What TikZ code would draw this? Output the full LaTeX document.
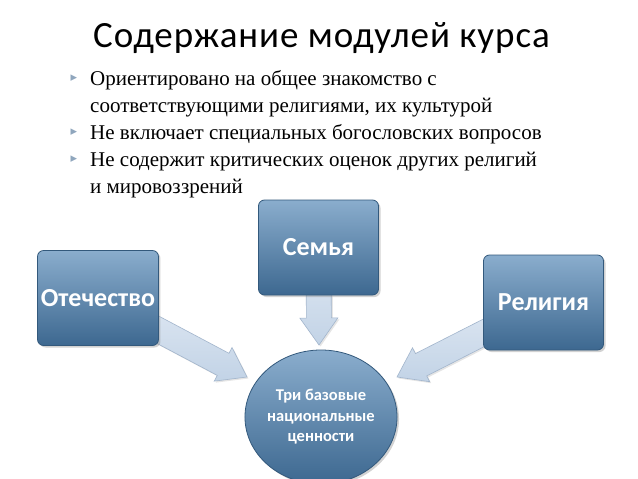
\documentclass[tikz,border=0pt]{standalone}
\usepackage{fontspec}
\setmainfont{Liberation Serif}
\newfontfamily\boxfont{Carlito}
\newfontfamily\titlefont[LetterSpace=2.5]{Carlito}
\newfontfamily\symfont{DejaVu Sans}
\usepackage{xcolor}
\usetikzlibrary{shapes.geometric, shadows, calc, positioning}

\definecolor{boxtop}{HTML}{8AADCD}
\definecolor{boxbot}{HTML}{3D6890}
\definecolor{boxedge}{HTML}{33597C}
\definecolor{arrfill}{HTML}{E2EAF4}
\definecolor{arrfillb}{HTML}{C2D3E6}
\definecolor{arredge}{HTML}{A2B5CC}
\definecolor{bulletcol}{HTML}{8FA6BD}

\pgfdeclarelayer{bg}
\pgfdeclarelayer{arrows}
\pgfsetlayers{bg,arrows,main}

% block arrow from a node to a coordinate
\newcommand{\blockarrow}[2]{%
  \path let \p1=($(#2)-(#1)$) in \pgfextra{%
    \pgfmathsetmacro\arrang{atan2(\y1,\x1)}\global\let\arrang\arrang
    \pgfmathsetmacro\arrlen{veclen(\x1,\y1)}\global\let\arrlen\arrlen};
  \begin{scope}[shift={(#1)}, rotate=\arrang]
    \draw[bigarrow] (0pt,-12.5pt) -- (\arrlen pt-27pt,-12.5pt) -- (\arrlen pt-27pt,-19pt)
      -- (\arrlen pt,0pt) -- (\arrlen pt-27pt,19pt) -- (\arrlen pt-27pt,12.5pt)
      -- (0pt,12.5pt) -- cycle;
  \end{scope}}

\begin{document}
\begin{tikzpicture}[x=1pt, y=-1pt,
  valbox/.style={rectangle, rounded corners=6pt, minimum width=120pt, minimum height=95pt,
    top color=boxtop, bottom color=boxbot, draw=boxedge, line width=0.8pt,
    text=white, font=\boxfont\bfseries\fontsize{26}{26}\selectfont,
    drop shadow={opacity=0.35, shadow xshift=2pt, shadow yshift=-2pt}},
  valnode/.style={ellipse, minimum width=146pt, minimum height=134pt, inner sep=0pt,
    top color=boxtop, bottom color=boxbot, draw=boxedge, line width=0.8pt,
    text=white, align=center, font=\boxfont\bfseries\fontsize{16.5}{20.5}\selectfont,
    drop shadow={opacity=0.35, shadow xshift=2pt, shadow yshift=-2pt}},
  bigarrow/.style={top color=arrfill, bottom color=arrfillb, draw=arredge, line width=0.6pt,
    drop shadow={opacity=0.2, shadow xshift=1.5pt, shadow yshift=-1.5pt}},
  item/.style={anchor=base west, align=left, inner sep=0pt, font=\fontsize{21}{27}\selectfont},
  bullet/.style={text=bulletcol, inner sep=0pt, font=\symfont\fontsize{13}{13}\selectfont}]

  \begin{pgfonlayer}{bg}
    \fill[white] (0,0) rectangle (638,479);
  \end{pgfonlayer}
  \useasboundingbox (0,0) rectangle (638,479);

  \node[anchor=base west, inner sep=0pt, font=\titlefont\fontsize{37}{37}\selectfont] (title) at (93,47) {Содержание модулей курса};

  % base anchor sits on the last line
  \node[item] (item1) at (90,112) {Ориентировано на общее знакомство с\\соответствующими религиями, их культурой};
  \node[item] (item2) at (90,139) {Не включает специальных богословских вопросов};
  \node[item] (item3) at (90,193) {Не содержит критических оценок других религий\\и мировоззрений};
  \foreach \y in {78,132,159}
    \node[bullet] at (74,\y) {▸};

  \node[valbox] (otech) at (98,298) {Отечество};
  \node[valbox] (semya) at (318.5,247.5) {Семья};
  \node[valbox] (relig) at (543.5,302.5) {Религия};
  \node[valnode] (values) at (321,417) {Три базовые\\национальные\\ценности};

  \coordinate (tipO) at (247,377);
  \coordinate (tipS) at (319,345);
  \coordinate (tipR) at (397,377);

  \begin{pgfonlayer}{arrows}
    \blockarrow{otech}{tipO}
    \blockarrow{semya}{tipS}
    \blockarrow{relig}{tipR}
  \end{pgfonlayer}
\end{tikzpicture}
\end{document}
